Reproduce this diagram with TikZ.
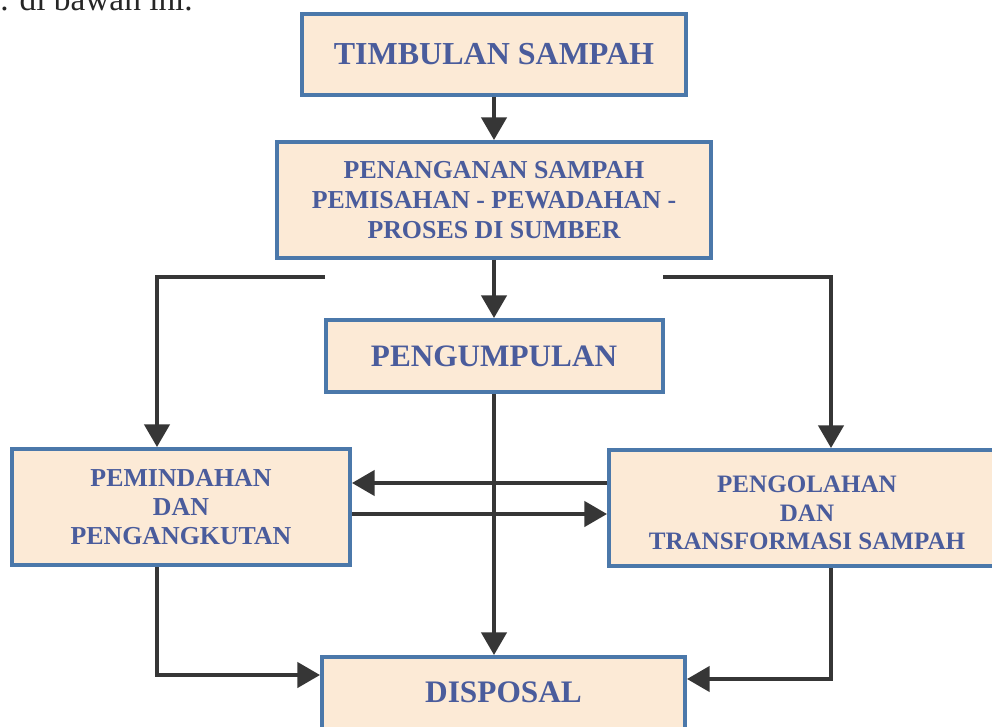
\documentclass[tikz,border=0pt]{standalone}
\usepackage{fontspec}
\setmainfont{Liberation Serif}
\usetikzlibrary{arrows.meta}
\definecolor{boxfill}{HTML}{FCEAD6}
\definecolor{boxline}{HTML}{4B78AA}
\definecolor{boxtext}{HTML}{4A5C9C}
\definecolor{arrowcol}{HTML}{363636}
\begin{document}
\begin{tikzpicture}[x=0.75pt,y=-0.75pt,
  stagebox/.style={draw=boxline, line width=3pt, fill=boxfill, text=boxtext, align=center, inner sep=0pt},
  boxlabel/.style={text=boxtext, align=center, inner sep=0pt},
  flow/.style={draw=arrowcol, line width=2.6pt, line join=miter, -{Triangle[length=17pt,width=19pt]}},
  plainline/.style={draw=arrowcol, line width=2.6pt}]
\path[use as bounding box, clip] (0,0) rectangle (992,727);

% fragment of the sentence above the diagram
\node[anchor=base west, inner sep=0pt, text=black!85, font=\fontsize{25}{30}\selectfont] (intro) at (0,11) {. di bawah ini.};

% boxes
\node[stagebox, minimum width=288pt, minimum height=60.75pt, font=\bfseries\fontsize{24}{28}\selectfont] (tim) at (494,54.5) {TIMBULAN SAMPAH};
\node[stagebox, minimum width=325.5pt, minimum height=87pt, font=\bfseries\fontsize{19.4}{22.5}\selectfont] (pen) at (494,200) {PENANGANAN SAMPAH\\PEMISAHAN - PEWADAHAN -\\PROSES DI SUMBER};
\node[stagebox, minimum width=252.75pt, minimum height=54pt, font=\bfseries\fontsize{23.4}{28}\selectfont] (pgm) at (494,356) {PENGUMPULAN};
\node[stagebox, minimum width=253.5pt, minimum height=87pt, font=\bfseries\fontsize{19.4}{21.75}\selectfont] (pem) at (181,507) {PEMINDAHAN\\DAN\\PENGANGKUTAN};
\node[stagebox, minimum width=297pt, minimum height=87pt] (pgo) at (807,508) {};
\node[boxlabel, font=\bfseries\fontsize{18.8}{21.4}\selectfont] (pgotext) at (807,513) {PENGOLAHAN\\DAN\\TRANSFORMASI SAMPAH};
\node[stagebox, minimum width=272.25pt, minimum height=77.25pt] (disp) at (503.5,708.5) {};
\node[boxlabel, font=\bfseries\fontsize{23.5}{28}\selectfont] (disptext) at (503.5,692) {DISPOSAL};

% helper coordinates
\coordinate (L1) at (325,277);
\coordinate (L2) at (157,277);
\coordinate (R1) at (663,277);
\coordinate (R2) at (831,277);
\coordinate (H1) at (0,483);
\coordinate (H2) at (0,514);
\coordinate (BL) at (157,675);
\coordinate (BR) at (831,679);

% connectors
\draw[flow] (tim.south) -- (pen.north);
\draw[flow] (pen.south) -- (pgm.north);
\draw[flow] (L1) -- (L2) -- (L2 |- pem.north);
\draw[flow] (R1) -- (R2) -- (R2 |- pgo.north);
\draw[flow] (pgm.south) -- (pgm.south |- disp.north);
\draw[flow] (pgo.west |- H1) -- (pem.east |- H1);
\draw[flow] (pem.east |- H2) -- (pgo.west |- H2);
\draw[flow] (pem.south -| BL) -- (BL) -- (disp.west |- BL);
\draw[flow] (pgo.south -| BR) -- (BR) -- (disp.east |- BR);
\end{tikzpicture}
\end{document}
